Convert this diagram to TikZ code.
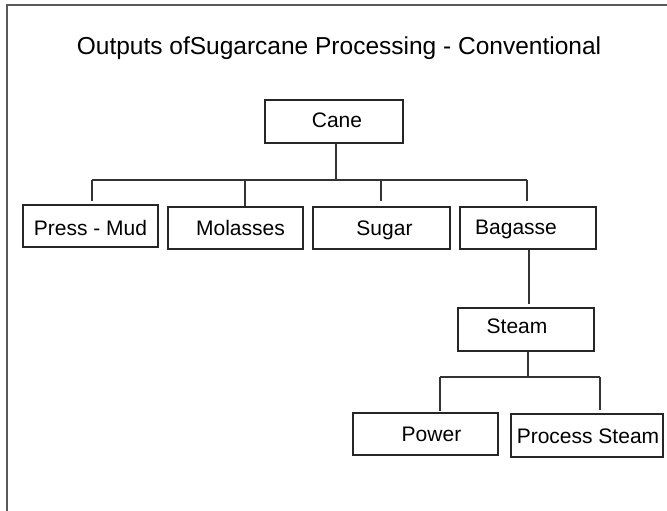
\documentclass[tikz,border=0pt]{standalone}
\usepackage{fontspec}
\setmainfont{Liberation Sans}
\usetikzlibrary{calc}
\tikzset{
  box/.style={draw=black!85, line width=1.1pt, rectangle, inner sep=0pt},
  boxtext/.style={font=\fontsize{21}{24}\selectfont, text height=15pt, text depth=0pt, inner sep=0pt},
  conn/.style={draw=black!80, line width=1.1pt},
  frame/.style={draw=black!65, line width=1.6pt},
}
\begin{document}
\begin{tikzpicture}[x=1pt,y=-1pt]
\useasboundingbox (0,0) rectangle (667,511);
% frame (top and left edges)
\draw[frame] (7,511) -- (7,5) -- (667,5);
% title
\node[font=\fontsize{24.5}{28}\selectfont, anchor=base] (title) at (339,54.5) {Outputs ofSugarcane Processing - Conventional};
% boxes
\node[box, minimum width=138, minimum height=43, label={[boxtext,xshift=3pt,yshift=1.5pt]center:Cane}] (cane) at (334,121.5) {};
\node[box, minimum width=135, minimum height=42, label={[boxtext,yshift=-2pt]center:Press - Mud}] (pm) at (90.5,226) {};
\node[box, minimum width=135, minimum height=42, label={[boxtext,xshift=5pt]center:Molasses}] (mol) at (235.5,228) {};
\node[box, minimum width=137, minimum height=42, label={[boxtext,xshift=3pt]center:Sugar}] (sug) at (381.5,228) {};
\node[box, minimum width=136, minimum height=42, label={[boxtext,xshift=-12pt,yshift=1pt]center:Bagasse}] (bag) at (528,228) {};
\node[box, minimum width=136, minimum height=43, label={[boxtext,xshift=-9pt,yshift=4pt]center:Steam}] (steam) at (526,329.5) {};
\node[box, minimum width=145, minimum height=42, label={[boxtext,xshift=6pt]center:Power}] (pow) at (425.5,434) {};
\node[box, minimum width=152, minimum height=43, label={[boxtext,xshift=1pt]center:Process Steam}] (ps) at (587,435.5) {};
% connector hubs
\coordinate (hub1) at (336,180);
\coordinate (hubL) at (92,180);
\coordinate (hubM) at (245,180);
\coordinate (hubS) at (381,180);
\coordinate (hubR) at (527,180);
\coordinate (hub2) at (528,377);
\coordinate (hubP) at (440,377);
\coordinate (hubQ) at (600,377);
% cane to products
\draw[conn] (cane.south -| hub1) -- (hub1);
\draw[conn] (hubL) -- (hubR);
\draw[conn] (hubL) -- ($(pm.north -| hubL)+(0,-3)$);
\draw[conn] (hubM) -- (mol.north -| hubM);
\draw[conn] (hubS) -- ($(sug.north -| hubS)+(0,-5)$);
\draw[conn] (hubR) -- ($(bag.north -| hubR)+(0,-5)$);
% bagasse to steam
\draw[conn] ($(bag.south)+(1,0)$) -- ($(steam.north -| bag.south)+(1,-3)$);
% steam to outputs
\draw[conn] (steam.south -| hub2) -- (hub2);
\draw[conn] (hubP) -- (hubQ);
\draw[conn] (hubP) -- ($(pow.north -| hubP)+(0,-1)$);
\draw[conn] (hubQ) -- ($(ps.north -| hubQ)+(0,-3)$);
\end{tikzpicture}
\end{document}
